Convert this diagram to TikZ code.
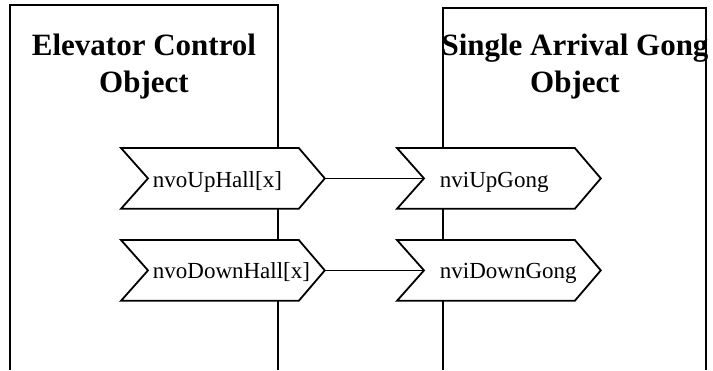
\documentclass[tikz,border=0pt]{standalone}
\usepackage{fontspec}
\setmainfont{Liberation Serif}
\usetikzlibrary{calc}
\begin{document}
\begin{tikzpicture}[x=1pt,y=-1pt,line width=1.8pt,
  title/.style={font=\bfseries\fontsize{31}{37}\selectfont, align=center, inner sep=0, anchor=base},
  sigtext/.style={font=\fontsize{23}{27}\selectfont, anchor=base west, inner sep=0},
  sigbody/.style={minimum width=176pt, minimum height=59pt, inner sep=0, anchor=north west}]
\useasboundingbox (0,0) rectangle (713,370);

% chevron outline around a named body node: point on the right, notch on the left
\newcommand\chevron[1]{%
  \filldraw[fill=white] (#1.north west) -- (#1.north east) -- ($(#1.east)+(26,0)$)
    -- (#1.south east) -- (#1.south west) -- ($(#1.west)+(27,0)$) -- cycle;}

% object boxes (open at the bottom)
\draw (10,370) -- (10,5) -- (278,5) -- (278,370);
\draw (443,370) -- (443,8) -- (706,8) -- (706,370);

% object titles (base anchor sits on the last line)
\node[title] (ecTitle) at (144,92) {Elevator Control\\Object};
\node[title] (gongTitle) at (575,92) {Single Arrival Gong\\Object};

% network variable bodies
\node[sigbody] (upHall)   at (121,148) {};
\node[sigbody] (downHall) at (121,240) {};
\node[sigbody] (upGong)   at (397,148) {};
\node[sigbody] (downGong) at (397,240) {};

\chevron{upHall}
\chevron{downHall}
\chevron{upGong}
\chevron{downGong}

\node[sigtext] (upHallText)   at (152,187) {nvoUpHall[x]};
\node[sigtext] (downHallText) at (152,278) {nvoDownHall[x]};
\node[sigtext] (upGongText)   at (439,187) {nviUpGong};
\node[sigtext] (downGongText) at (439,278) {nviDownGong};

% bindings: output tip to input notch
\coordinate (upHallTip)   at ($(upHall.east)+(26,0)$);
\coordinate (downHallTip) at ($(downHall.east)+(26,0)$);
\coordinate (upGongNotch)   at ($(upGong.west)+(27,0)$);
\coordinate (downGongNotch) at ($(downGong.west)+(27,0)$);
\draw (upHallTip) -- (upGongNotch);
\draw (downHallTip) -- (downGongNotch);
\end{tikzpicture}
\end{document}
